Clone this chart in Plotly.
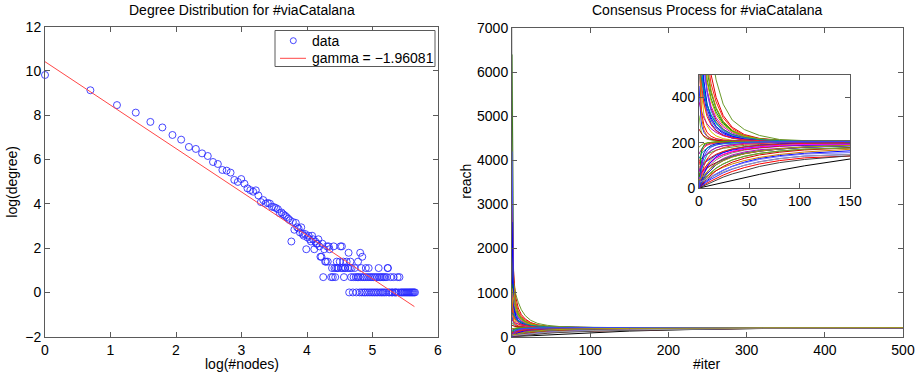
import plotly.graph_objects as go

# ---------------- Left panel: degree distribution ----------------
deg_x = [0.000, 0.693, 1.099, 1.386, 1.609, 1.792, 1.946, 2.079, 2.197, 2.303,
         2.398, 2.485, 2.565, 2.639, 2.708, 2.773, 2.833, 2.890, 2.944, 2.996,
         3.045, 3.091, 3.135, 3.178, 3.219, 3.258, 3.296, 3.332, 3.367, 3.401,
         3.434, 3.466, 3.497, 3.526, 3.555, 3.584, 3.611, 3.638, 3.664, 3.689,
         3.714, 3.738, 3.761, 3.784, 3.807, 3.829, 3.850, 3.871, 3.892, 3.912,
         3.932, 3.951, 3.970, 3.989, 4.007, 4.025, 4.043, 4.060, 4.078, 4.094,
         4.111, 4.127, 4.143, 4.159, 4.174, 4.190, 4.205, 4.220, 4.234, 4.248,
         4.263, 4.277, 4.290, 4.304, 4.317, 4.331, 4.344, 4.369, 4.382, 4.394,
         4.407, 4.419, 4.431, 4.443, 4.454, 4.466, 4.477, 4.500, 4.511, 4.522,
         4.533, 4.543, 4.554, 4.564, 4.575, 4.585, 4.605, 4.625, 4.635, 4.644,
         4.654, 4.663, 4.673, 4.682, 4.700, 4.710, 4.727, 4.745, 4.754, 4.771,
         4.779, 4.787, 4.804, 4.812, 4.820, 4.828, 4.836, 4.844, 4.852, 4.868,
         4.875, 4.890, 4.898, 4.905, 4.920, 4.934, 4.942, 4.949, 4.963, 4.977,
         4.990, 5.004, 5.017, 5.030, 5.043, 5.056, 5.069, 5.081, 5.094, 5.100,
         5.112, 5.124, 5.136, 5.147, 5.159, 5.170, 5.182, 5.193, 5.209, 5.220,
         5.231, 5.236, 5.247, 5.263, 5.278, 5.293, 5.308, 5.323, 5.338, 5.352,
         5.366, 5.384, 5.398, 5.412, 5.429, 5.447, 5.464, 5.481, 5.497, 5.513,
         5.529, 5.545, 5.561, 5.576, 5.591, 5.606, 5.620, 5.635, 5.649]
deg_y = [9.82, 9.13, 8.46, 8.12, 7.70, 7.45, 7.11, 6.90, 6.57, 6.48,
         6.28, 6.16, 5.89, 5.80, 5.53, 5.50, 5.41, 5.08, 4.99, 5.12,
         4.91, 4.70, 4.62, 4.55, 4.61, 4.38, 4.08, 4.17, 4.01, 4.04,
         4.01, 3.87, 3.85, 3.81, 3.76, 3.58, 3.61, 3.53, 3.47, 3.40,
         3.33, 3.26, 2.30, 3.18, 2.83, 3.14, 2.94, 2.89, 2.71, 2.94,
         2.64, 2.56, 2.64, 1.95, 2.48, 2.56, 2.40, 2.30, 2.56, 2.40,
         1.95, 2.30, 2.20, 2.20, 2.40, 2.08, 1.61, 1.61, 2.20, 0.69,
         1.95, 1.39, 1.39, 2.08, 1.39, 2.08, 1.95, 0.69, 1.10, 0.69,
         2.08, 1.10, 0.69, 1.10, 1.39, 1.10, 1.10, 1.39, 2.08, 1.10,
         2.08, 1.10, 1.39, 0.69, 1.10, 1.10, 1.39, 1.10, 1.79, 0.00,
         1.10, 1.39, 0.69, 1.10, 0.00, 0.69, 1.10, 0.69, 0.00, 0.69,
         1.39, 0.69, 0.00, 1.79, 0.69, 1.10, 0.00, 1.61, 0.69, 0.00,
         0.69, 0.00, 1.10, 0.69, 0.00, 0.69, 1.10, 0.00, 0.69, 0.00,
         0.69, 0.00, 0.69, 0.00, 0.69, 0.00, 0.69, 0.00, 1.10, 0.69,
         0.00, 0.69, 0.00, 0.69, 0.00, 0.69, 0.00, 0.69, 0.00, 0.69,
         1.10, 1.10, 0.00, 0.00, 0.69, 0.00, 0.00, 0.69, 0.00, 0.00,
         0.00, 0.69, 0.00, 0.69, 0.00, 0.00, 0.00, 0.00, 0.00, 0.00,
         0.00, 0.00, 0.00, 0.00, 0.00, 0.00, 0.00, 0.00, 0.00]
fit_x = [0.0, 5.64]
fit_y = [10.42, -0.64]
data_label = "data"
gamma_label = "gamma = \u22121.96081"

# ---------------- Right panel: consensus process ----------------
iters = [0, 1, 2, 3, 5, 8, 12, 17, 24, 33, 45, 60, 80, 105, 150, 220, 320, 500]

reach_u01 = [6400, 2300, 1400, 1000, 700, 520, 420, 350, 290, 250, 226, 214, 209, 207, 206, 205, 205, 205]
reach_u02 = [3300, 2000, 1500, 1200, 880, 650, 500, 400, 320, 268, 236, 219, 211, 208, 206, 205, 205, 205]
reach_u03 = [2900, 1500, 1000, 780, 560, 430, 350, 300, 260, 236, 220, 212, 208, 206, 206, 205, 205, 205]
reach_u04 = [2200, 1600, 1250, 1000, 760, 580, 460, 380, 310, 262, 232, 217, 210, 207, 206, 205, 205, 205]
reach_u05 = [2100, 1100, 750, 580, 440, 350, 300, 265, 240, 224, 214, 209, 207, 206, 205, 205, 205, 205]
reach_u06 = [1400, 1300, 1200, 1100, 950, 780, 610, 477, 370, 300, 258, 232, 214, 209, 207, 206, 205, 205]
reach_u07 = [1500, 900, 650, 520, 400, 330, 285, 255, 233, 220, 212, 208, 206, 205, 205, 205, 205, 205]
reach_u08 = [1000, 850, 740, 650, 530, 430, 360, 310, 270, 243, 225, 214, 209, 207, 206, 205, 205, 205]
reach_u09 = [800, 600, 480, 400, 320, 275, 248, 230, 218, 211, 208, 206, 205, 205, 205, 205, 205, 205]
reach_u10 = [700, 620, 560, 510, 440, 370, 320, 283, 253, 233, 220, 212, 208, 206, 205, 205, 205, 205]
reach_u11 = [600, 450, 370, 320, 275, 245, 228, 218, 212, 209, 207, 206, 205, 205, 205, 205, 205, 205]
reach_u12 = [500, 470, 440, 415, 375, 330, 295, 268, 246, 230, 219, 212, 208, 206, 205, 205, 205, 205]
reach_u13 = [450, 350, 300, 270, 245, 228, 218, 212, 209, 207, 206, 205, 205, 205, 205, 205, 205, 205]
reach_u14 = [380, 360, 345, 330, 308, 283, 262, 245, 231, 221, 214, 210, 207, 206, 205, 205, 205, 205]
reach_u15 = [320, 280, 255, 240, 225, 215, 210, 207, 206, 205, 205, 205, 205, 205, 205, 205, 205, 205]
reach_u16 = [900, 500, 360, 300, 255, 230, 218, 211, 208, 206, 205, 205, 205, 205, 205, 205, 205, 205]
reach_u17 = [1200, 1000, 850, 740, 600, 480, 395, 335, 285, 252, 230, 217, 210, 207, 206, 205, 205, 205]
reach_u18 = [260, 250, 243, 237, 229, 220, 214, 210, 207, 206, 205, 205, 205, 205, 205, 205, 205, 205]
reach_u19 = [4200, 1800, 1100, 800, 560, 420, 340, 290, 252, 230, 217, 210, 207, 206, 205, 205, 205, 205]
reach_u20 = [1800, 1400, 1150, 960, 720, 540, 430, 355, 295, 255, 230, 216, 209, 207, 206, 205, 205, 205]
reach_u21 = [7600, 2600, 1500, 1050, 720, 530, 425, 352, 292, 252, 228, 215, 209, 207, 206, 205, 205, 205]
reach_u22 = [2600, 1300, 850, 640, 470, 370, 310, 272, 245, 228, 216, 210, 207, 206, 205, 205, 205, 205]
reach_u23 = [1100, 950, 830, 730, 590, 470, 385, 325, 278, 248, 228, 216, 209, 207, 206, 205, 205, 205]
reach_u24 = [650, 560, 490, 440, 370, 315, 278, 252, 233, 221, 213, 209, 207, 206, 205, 205, 205, 205]
reach_u25 = [550, 520, 490, 460, 415, 365, 322, 287, 258, 237, 223, 214, 209, 207, 206, 205, 205, 205]

reach_l01 = [0, 1, 2, 3, 5, 8, 12, 18, 25, 34, 46, 60, 78, 98, 128, 160, 186, 201]
reach_l02 = [0, 3, 6, 9, 14, 22, 31, 43, 57, 73, 90, 106, 121, 133, 147, 170, 190, 203]
reach_l03 = [0, 5, 10, 14, 22, 33, 46, 61, 78, 96, 114, 130, 143, 153, 164, 182, 197, 204]
reach_l04 = [0, 8, 16, 23, 35, 51, 68, 87, 106, 124, 140, 153, 163, 171, 179, 192, 201, 205]
reach_l05 = [0, 12, 23, 33, 50, 70, 91, 111, 130, 146, 159, 169, 176, 182, 188, 197, 203, 205]
reach_l06 = [0, 20, 38, 53, 78, 104, 127, 146, 161, 173, 182, 188, 193, 196, 199, 203, 205, 205]
reach_l07 = [0, 35, 63, 86, 118, 146, 165, 178, 187, 193, 197, 200, 202, 203, 204, 205, 205, 205]
reach_l08 = [20, 30, 40, 49, 65, 85, 105, 124, 141, 155, 167, 176, 183, 188, 193, 200, 204, 205]
reach_l09 = [50, 58, 65, 72, 85, 101, 117, 133, 147, 160, 170, 178, 185, 190, 195, 201, 204, 205]
reach_l10 = [80, 86, 92, 97, 107, 119, 132, 145, 157, 167, 175, 182, 188, 192, 196, 201, 204, 205]
reach_l11 = [120, 125, 129, 133, 140, 149, 158, 167, 175, 182, 188, 192, 196, 198, 200, 203, 205, 205]
reach_l12 = [150, 160, 168, 175, 185, 193, 198, 201, 203, 204, 204, 205, 205, 205, 205, 205, 205, 205]
reach_l13 = [100, 130, 150, 163, 178, 189, 195, 199, 201, 203, 204, 205, 205, 205, 205, 205, 205, 205]
reach_l14 = [0, 60, 100, 125, 155, 176, 188, 195, 199, 202, 203, 204, 205, 205, 205, 205, 205, 205]
reach_l15 = [0, 100, 150, 172, 190, 199, 202, 204, 205, 205, 205, 205, 205, 205, 205, 205, 205, 205]
reach_l16 = [30, 33, 36, 39, 45, 54, 65, 77, 91, 106, 121, 135, 148, 159, 171, 187, 199, 204]
reach_l17 = [10, 14, 18, 22, 29, 39, 51, 64, 79, 95, 111, 126, 139, 150, 161, 180, 196, 204]
reach_l18 = [60, 64, 68, 72, 79, 89, 100, 112, 125, 138, 151, 162, 172, 180, 187, 197, 203, 205]
reach_l19 = [180, 185, 189, 192, 196, 199, 201, 203, 204, 204, 205, 205, 205, 205, 205, 205, 205, 205]
reach_l20 = [0, 4, 8, 12, 19, 28, 39, 52, 67, 83, 100, 116, 130, 141, 154, 175, 194, 203]
reach_l21 = [40, 48, 56, 63, 77, 95, 114, 132, 149, 162, 173, 181, 188, 192, 196, 201, 204, 205]
reach_l22 = [5, 15, 25, 34, 50, 70, 90, 109, 127, 142, 155, 165, 173, 180, 187, 197, 203, 205]
reach_l23 = [0, 25, 48, 68, 98, 128, 150, 166, 178, 187, 193, 197, 200, 202, 204, 205, 205, 205]
reach_l24 = [0, 2, 4, 7, 11, 17, 25, 35, 48, 62, 78, 95, 112, 126, 142, 166, 188, 202]
reach_l25 = [0, 15, 30, 43, 65, 92, 117, 138, 156, 170, 181, 189, 195, 199, 202, 204, 205, 205]
reach_l26 = [0, 6, 12, 18, 28, 42, 58, 76, 95, 114, 131, 146, 158, 168, 177, 191, 200, 204]
reach_l27 = [15, 20, 25, 30, 40, 54, 70, 88, 106, 123, 139, 152, 163, 172, 181, 193, 201, 205]
reach_l28 = [70, 90, 105, 117, 135, 152, 166, 177, 186, 192, 197, 200, 202, 203, 204, 205, 205, 205]
reach_l29 = [0, 10, 19, 28, 43, 62, 82, 102, 121, 138, 152, 163, 172, 179, 186, 196, 202, 205]
reach_l30 = [25, 27, 29, 31, 35, 41, 49, 59, 71, 85, 100, 115, 129, 141, 155, 176, 194, 203]
reach_l31 = [90, 95, 100, 105, 113, 124, 136, 149, 161, 172, 181, 188, 193, 197, 200, 203, 205, 205]
reach_l32 = [130, 140, 148, 155, 165, 175, 183, 190, 195, 199, 201, 203, 204, 205, 205, 205, 205, 205]
reach_l33 = [0, 45, 80, 105, 138, 163, 180, 190, 196, 200, 202, 204, 205, 205, 205, 205, 205, 205]
reach_l34 = [35, 40, 45, 50, 59, 72, 87, 103, 120, 136, 151, 163, 173, 181, 188, 197, 203, 205]

reach_curves = [reach_u21, reach_u01, reach_u02, reach_u03, reach_u04, reach_u05, reach_u06,
                reach_u07, reach_u08, reach_u09, reach_u10, reach_u11, reach_u12, reach_u13,
                reach_u14, reach_u15, reach_u16, reach_u17, reach_u18, reach_u19, reach_u20,
                reach_u22, reach_u23, reach_u24, reach_u25,
                reach_l01, reach_l02, reach_l03, reach_l04, reach_l05, reach_l06, reach_l07,
                reach_l08, reach_l09, reach_l10, reach_l11, reach_l12, reach_l13, reach_l14,
                reach_l15, reach_l16, reach_l17, reach_l18, reach_l19, reach_l20, reach_l21,
                reach_l22, reach_l23, reach_l24, reach_l25, reach_l26, reach_l27, reach_l28,
                reach_l29, reach_l30, reach_l31, reach_l32, reach_l33, reach_l34]
curve_colors = ["#c8c8c8", "#3d7a1f", "#e00000", "#d01010", "#ff2020", "#1010ff", "#6a9a2a",
                "#0000ff", "#cc00cc", "#d4c400", "#00a8a8", "#ff0000", "#8c8c8c", "#2a2aff",
                "#b000b0", "#7fbf3f", "#e07000", "#00a000", "#c00000", "#5050ff", "#a0a000",
                "#0000ff", "#b8a800", "#ff2020", "#009090",
                "#000000", "#ff0000", "#0000ff", "#20a020", "#cc00cc", "#c8b400", "#00a8a8",
                "#808080", "#e00000", "#1a1aff", "#6a9a2a", "#a000a0", "#ff3030", "#0000d0",
                "#00b000", "#d08000", "#7070ff", "#b00000", "#909000", "#3030ff", "#ff00ff",
                "#508050", "#e03030", "#404040", "#0000ff", "#d00000", "#7a9a30", "#c000c0",
                "#2020e0", "#a0a0a0", "#e02020", "#00a0a0", "#4040ff", "#b0a000"]

FONT = "Liberation Sans, Arial, Helvetica, sans-serif"
W, H = 917, 374
MARKER_COLOR = "rgba(40,40,255,0.85)"
FIT_COLOR = "rgb(255,70,70)"
FRAME = "#5a5a5a"

def px(xp):
    return xp / W

def py(yp):
    return 1 - yp / H

fig = go.Figure()

fig.add_trace(go.Scatter(
    x=deg_x, y=deg_y, mode="markers", name=data_label, showlegend=False, cliponaxis=False,
    marker=dict(symbol="circle-open", size=7, color=MARKER_COLOR, line=dict(width=1)),
    xaxis="x", yaxis="y"))
fig.add_trace(go.Scatter(
    x=fit_x, y=fit_y, mode="lines", name=gamma_label, showlegend=False,
    line=dict(color=FIT_COLOR, width=1), xaxis="x", yaxis="y"))

for c, col in zip(reach_curves, curve_colors):
    fig.add_trace(go.Scatter(x=iters, y=c, mode="lines", showlegend=False,
                             line=dict(color=col, width=1), xaxis="x2", yaxis="y2",
                             hoverinfo="skip"))
for c, col in zip(reach_curves, curve_colors):
    fig.add_trace(go.Scatter(x=iters, y=c, mode="lines", showlegend=False,
                             line=dict(color=col, width=1), xaxis="x3", yaxis="y3",
                             hoverinfo="skip"))

axis_common = dict(showline=True, linecolor=FRAME, linewidth=1, mirror="allticks",
                   ticks="inside", ticklen=5, tickcolor=FRAME, showgrid=False,
                   zeroline=False, automargin=False,
                   tickfont=dict(size=14, color="black", family=FONT))

# MATLAB-style legend box (drawn in paper space)
legend_shapes = [
    dict(type="rect", xref="paper", yref="paper", x0=px(275), x1=px(435), y0=py(66.5), y1=py(30.5),
         line=dict(color=FRAME, width=1), fillcolor="white", layer="above"),
    dict(type="circle", xref="paper", yref="paper", x0=px(290.3), x1=px(296.3), y0=py(43.7), y1=py(37.7),
         line=dict(color=MARKER_COLOR, width=1), layer="above"),
    dict(type="line", xref="paper", yref="paper", x0=px(280), x1=px(306), y0=py(58.3), y1=py(58.3),
         line=dict(color=FIT_COLOR, width=1), layer="above"),
]

fig.update_layout(
    width=W, height=H, margin=dict(l=0, r=0, t=0, b=0, autoexpand=False),
    paper_bgcolor="white", plot_bgcolor="white",
    font=dict(family=FONT, size=14, color="black"),
    showlegend=False,
    xaxis=dict(domain=[px(45), px(438)], range=[0, 6], dtick=1, anchor="y", **axis_common),
    yaxis=dict(domain=[py(336.7), py(26.7)], range=[-2, 12], dtick=2, anchor="x", **axis_common),
    xaxis2=dict(domain=[px(512), px(903)], range=[0, 500], dtick=100, anchor="y2", **axis_common),
    yaxis2=dict(domain=[py(336.7), py(28)], range=[0, 7000], dtick=1000, anchor="x2", **axis_common),
    xaxis3=dict(domain=[px(699), px(850)], range=[0, 150], dtick=50, anchor="y3", **axis_common),
    yaxis3=dict(domain=[py(188), py(74.7)], range=[0, 500], tickvals=[0, 200, 400], anchor="x3", **axis_common),
    shapes=legend_shapes,
    annotations=[
        dict(text="Degree Distribution for #viaCatalana", x=px(241.5), y=py(10), xref="paper", yref="paper",
             showarrow=False, xanchor="center", yanchor="middle", font=dict(size=14)),
        dict(text="Consensus Process for #viaCatalana", x=px(707), y=py(10), xref="paper", yref="paper",
             showarrow=False, xanchor="center", yanchor="middle", font=dict(size=14)),
        dict(text="log(#nodes)", x=px(241.5), y=py(364), xref="paper", yref="paper",
             showarrow=False, xanchor="center", yanchor="middle", font=dict(size=14)),
        dict(text="#iter", x=px(707), y=py(364), xref="paper", yref="paper",
             showarrow=False, xanchor="center", yanchor="middle", font=dict(size=14)),
        dict(text="log(degree)", x=px(12), y=py(181.7), xref="paper", yref="paper", textangle=-90,
             showarrow=False, xanchor="center", yanchor="middle", font=dict(size=14)),
        dict(text="reach", x=px(466), y=py(181.7), xref="paper", yref="paper", textangle=-90,
             showarrow=False, xanchor="center", yanchor="middle", font=dict(size=14)),
        dict(text=data_label, x=px(310), y=py(40.7), xref="paper", yref="paper",
             showarrow=False, xanchor="left", yanchor="middle", font=dict(size=14)),
        dict(text=gamma_label, x=px(310), y=py(58.3), xref="paper", yref="paper",
             showarrow=False, xanchor="left", yanchor="middle", font=dict(size=14)),
    ],
)

fig.write_html("out.html", config={"displayModeBar": False},
               post_script="document.body.style.margin='0';")
